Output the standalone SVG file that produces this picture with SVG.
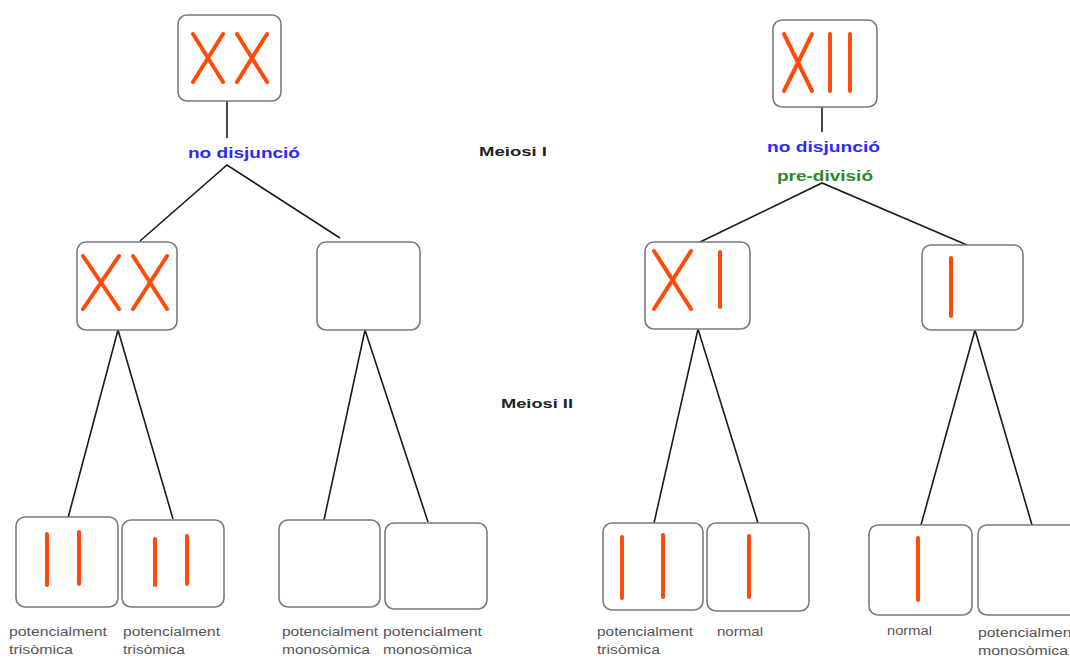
<svg xmlns="http://www.w3.org/2000/svg" width="1070" height="659" viewBox="0 0 1070 659">
  <style>
    .box { fill: #ffffff; stroke: #7a7a7a; stroke-width: 1.6; }
    .chr { stroke: #ff4a0a; stroke-width: 4; stroke-linecap: round; fill: none; }
    .edge { stroke: #1a1a1a; stroke-width: 1.6; fill: none; }
    .lbl { font-family: "Liberation Sans", Arial, sans-serif; font-size: 12px; fill: #555555; }
    .phase { font-family: "Liberation Sans", Arial, sans-serif; font-size: 13px; font-weight: bold; fill: #222222; }
    .blue { font-family: "Liberation Sans", Arial, sans-serif; font-size: 15px; font-weight: bold; fill: #2a2aff; }
    .green { font-family: "Liberation Sans", Arial, sans-serif; font-size: 15px; font-weight: bold; fill: #2a8a2a; }
  </style>
  <defs>
    <rect id="cell" width="102" height="88" rx="9" ry="9"/>
  </defs>
  <rect width="1070" height="659" fill="#ffffff"/>

  <!-- connectors -->
  <g id="connectors">
    <!-- left tree -->
    <line class="edge" x1="227" y1="101" x2="227" y2="138"/>
    <polyline class="edge" points="140,241 227,165 340,238"/>
    <polyline class="edge" points="68,518 118,330 173,519"/>
    <polyline class="edge" points="324,520 365,330 428,522"/>
    <!-- right tree -->
    <line class="edge" x1="822" y1="107" x2="822" y2="132"/>
    <polyline class="edge" points="698,243 822,183 967,245"/>
    <polyline class="edge" points="654,523 698,329 758,523"/>
    <polyline class="edge" points="921,525 975,330 1032,525"/>
  </g>

  <!-- left tree nodes -->
  <g id="L0">
    <rect class="box" x="178" y="15" width="103" height="86" rx="9"/>
    <path class="chr" d="M193,34 L223,82 M223,34 L193,82 M237,34 L267,82 M267,34 L237,82"/>
  </g>
  <g id="L1a">
    <rect class="box" x="77" y="242" width="100" height="88" rx="9"/>
    <path class="chr" d="M83,256 L119,309 M119,256 L83,309 M133,256 L167,309 M167,256 L133,309"/>
  </g>
  <g id="L1b">
    <rect class="box" x="317" y="242" width="103" height="88" rx="9"/>
  </g>
  <g id="L2a">
    <rect class="box" x="16" y="517" width="102" height="90" rx="9"/>
    <path class="chr" d="M47,534 L47,585 M79,532 L79,584"/>
  </g>
  <g id="L2b">
    <rect class="box" x="122" y="520" width="102" height="87" rx="9"/>
    <path class="chr" d="M155,539 L155,585 M187,536 L187,584"/>
  </g>
  <g id="L2c">
    <rect class="box" x="279" y="520" width="101" height="87" rx="9"/>
  </g>
  <g id="L2d">
    <rect class="box" x="385" y="523" width="102" height="86" rx="9"/>
  </g>

  <!-- right tree nodes -->
  <g id="R0">
    <rect class="box" x="773" y="20" width="104" height="87" rx="9"/>
    <path class="chr" d="M784,34 L812,91 M812,34 L784,91 M830,34 L830,91 M850,34 L850,91"/>
  </g>
  <g id="R1a">
    <rect class="box" x="645" y="242" width="105" height="87" rx="9"/>
    <path class="chr" d="M654,251 L691,309 M691,251 L654,309 M720,252 L720,307"/>
  </g>
  <g id="R1b">
    <rect class="box" x="922" y="245" width="101" height="85" rx="9"/>
    <path class="chr" d="M951,258 L951,316"/>
  </g>
  <g id="R2a">
    <rect class="box" x="603" y="523" width="100" height="87" rx="9"/>
    <path class="chr" d="M622,537 L622,598 M663,535 L663,597"/>
  </g>
  <g id="R2b">
    <rect class="box" x="707" y="523" width="102" height="88" rx="9"/>
    <path class="chr" d="M749,536 L749,597"/>
  </g>
  <g id="R2c">
    <rect class="box" x="869" y="525" width="103" height="90" rx="9"/>
    <path class="chr" d="M918,538 L918,600"/>
  </g>
  <g id="R2d">
    <rect class="box" x="978" y="525" width="104" height="90" rx="9"/>
  </g>

  <!-- event labels -->
  <g id="labels">
    <text class="blue" x="188" y="158" textLength="112" lengthAdjust="spacingAndGlyphs">no disjunció</text>
    <text class="blue" x="767" y="152" textLength="113" lengthAdjust="spacingAndGlyphs">no disjunció</text>
    <text class="green" x="777" y="181" textLength="96" lengthAdjust="spacingAndGlyphs">pre-divisió</text>
    <text class="phase" x="479" y="156" textLength="68" lengthAdjust="spacingAndGlyphs">Meiosi I</text>
    <text class="phase" x="501" y="408" textLength="72" lengthAdjust="spacingAndGlyphs">Meiosi II</text>
  </g>

  <!-- outcome labels -->
  <g id="outcomes">
    <text class="lbl" x="9" y="636" textLength="98" lengthAdjust="spacingAndGlyphs">potencialment</text>
    <text class="lbl" x="9" y="654" textLength="64" lengthAdjust="spacingAndGlyphs">trisòmica</text>
    <text class="lbl" x="123" y="636" textLength="97" lengthAdjust="spacingAndGlyphs">potencialment</text>
    <text class="lbl" x="123" y="654" textLength="62" lengthAdjust="spacingAndGlyphs">trisòmica</text>
    <text class="lbl" x="282" y="636" textLength="96" lengthAdjust="spacingAndGlyphs">potencialment</text>
    <text class="lbl" x="282" y="654" textLength="88" lengthAdjust="spacingAndGlyphs">monosòmica</text>
    <text class="lbl" x="383" y="636" textLength="99" lengthAdjust="spacingAndGlyphs">potencialment</text>
    <text class="lbl" x="383" y="654" textLength="89" lengthAdjust="spacingAndGlyphs">monosòmica</text>
    <text class="lbl" x="597" y="636" textLength="96" lengthAdjust="spacingAndGlyphs">potencialment</text>
    <text class="lbl" x="597" y="654" textLength="63" lengthAdjust="spacingAndGlyphs">trisòmica</text>
    <text class="lbl" x="717" y="636" textLength="46" lengthAdjust="spacingAndGlyphs">normal</text>
    <text class="lbl" x="887" y="635" textLength="45" lengthAdjust="spacingAndGlyphs">normal</text>
    <text class="lbl" x="978" y="637" textLength="98" lengthAdjust="spacingAndGlyphs">potencialment</text>
    <text class="lbl" x="978" y="655" textLength="90" lengthAdjust="spacingAndGlyphs">monosòmica</text>
  </g>
</svg>
